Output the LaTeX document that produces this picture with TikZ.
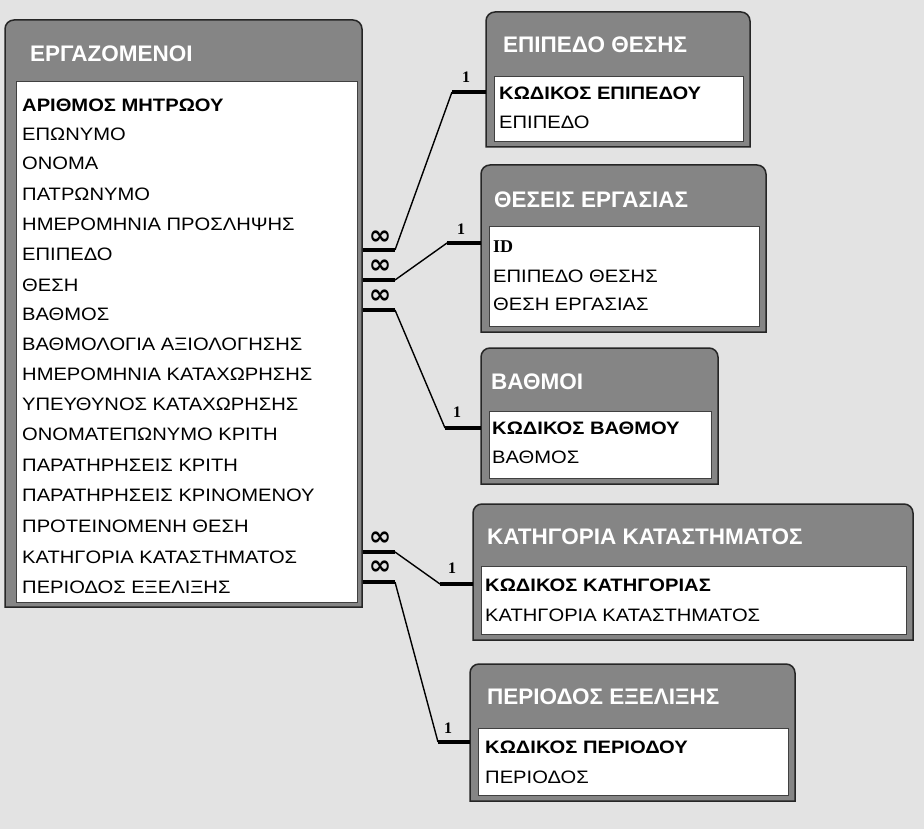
\documentclass[tikz,border=0pt]{standalone}
\usepackage{fontspec}
\setmainfont{Liberation Sans}
\newfontfamily\widefont[FakeStretch=1.12]{Liberation Sans}
\newfontfamily\symfont{DejaVu Sans}
\newfontfamily\numfont{Liberation Serif}
\begin{document}
\begin{tikzpicture}[x=1pt,y=-1pt,
  frame/.style={fill=black!48, draw=black!85, line width=1.5pt},
  body/.style={fill=white, draw=black!75, line width=0.6pt},
  ttl/.style={anchor=west, inner sep=0pt, text=white, font=\fontsize{22.5}{24}\selectfont\bfseries},
  fld/.style={anchor=west, inner sep=0pt, font=\widefont\fontsize{18}{19}\selectfont},
  keyf/.style={anchor=west, inner sep=0pt, font=\widefont\fontsize{18}{19}\selectfont\bfseries},
  bar/.style={line width=4pt},
  link/.style={line width=1.4pt},
  many/.style={inner sep=0pt, font=\symfont\bfseries\fontsize{27}{27}\selectfont},
  one/.style={inner sep=0pt, font=\numfont\bfseries\fontsize{16}{16}\selectfont}]
\useasboundingbox (0,0) rectangle (924,829);
\fill[black!11] (0,0) rectangle (924,829);

% ---------- main table
\path[frame] (5,607) [rounded corners=9pt] -- (5,20) -- (362,20) [sharp corners] -- (362,607) -- cycle;
\path[body] (16,81) rectangle (357,602);
\node[ttl] (mt) at (30,54) {ΕΡΓΑΖΟΜΕΝΟΙ};
\node[keyf] (m0) at (22,105) {ΑΡΙΘΜΟΣ ΜΗΤΡΩΟΥ};
\node[fld] (m1) at (22,134) {ΕΠΩΝΥΜΟ};
\node[fld] (m2) at (22,163) {ΟΝΟΜΑ};
\node[fld] (m3) at (22,194) {ΠΑΤΡΩΝΥΜΟ};
\node[fld] (m4) at (22,224) {ΗΜΕΡΟΜΗΝΙΑ ΠΡΟΣΛΗΨΗΣ};
\node[fld] (m5) at (22,254) {ΕΠΙΠΕΔΟ};
\node[fld] (m6) at (22,285) {ΘΕΣΗ};
\node[fld] (m7) at (22,314) {ΒΑΘΜΟΣ};
\node[fld] (m8) at (22,344) {ΒΑΘΜΟΛΟΓΙΑ ΑΞΙΟΛΟΓΗΣΗΣ};
\node[fld] (m9) at (22,374) {ΗΜΕΡΟΜΗΝΙΑ ΚΑΤΑΧΩΡΗΣΗΣ};
\node[fld] (m10) at (22,404) {ΥΠΕΥΘΥΝΟΣ ΚΑΤΑΧΩΡΗΣΗΣ};
\node[fld] (m11) at (22,434) {ΟΝΟΜΑΤΕΠΩΝΥΜΟ ΚΡΙΤΗ};
\node[fld] (m12) at (22,465) {ΠΑΡΑΤΗΡΗΣΕΙΣ ΚΡΙΤΗ};
\node[fld] (m13) at (22,495) {ΠΑΡΑΤΗΡΗΣΕΙΣ ΚΡΙΝΟΜΕΝΟΥ};
\node[fld] (m14) at (22,526) {ΠΡΟΤΕΙΝΟΜΕΝΗ ΘΕΣΗ};
\node[fld] (m15) at (22,557) {ΚΑΤΗΓΟΡΙΑ ΚΑΤΑΣΤΗΜΑΤΟΣ};
\node[fld] (m16) at (22,587) {ΠΕΡΙΟΔΟΣ ΕΞΕΛΙΞΗΣ};

% ---------- ΕΠΙΠΕΔΟ ΘΕΣΗΣ
\path[frame] (486,147) [rounded corners=9pt] -- (486,12) -- (750,12) [sharp corners] -- (750,147) -- cycle;
\path[body] (494,76) rectangle (743,141);
\node[ttl] (at) at (503,45) {ΕΠΙΠΕΔΟ ΘΕΣΗΣ};
\node[keyf] (a0) at (499,93) {ΚΩΔΙΚΟΣ ΕΠΙΠΕΔΟΥ};
\node[fld] (a1) at (499,122) {ΕΠΙΠΕΔΟ};

% ---------- ΘΕΣΕΙΣ ΕΡΓΑΣΙΑΣ
\path[frame] (481,332) [rounded corners=9pt] -- (481,165) -- (766,165) [sharp corners] -- (766,332) -- cycle;
\path[body] (489,226) rectangle (759,326);
\node[ttl] (bt) at (494,200) {ΘΕΣΕΙΣ ΕΡΓΑΣΙΑΣ};
\node[keyf, font=\numfont\bfseries\fontsize{18}{19}\selectfont] (b0) at (493,247) {ID};
\node[fld] (b1) at (493,276) {ΕΠΙΠΕΔΟ ΘΕΣΗΣ};
\node[fld] (b2) at (493,304) {ΘΕΣΗ ΕΡΓΑΣΙΑΣ};

% ---------- ΒΑΘΜΟΙ
\path[frame] (481,484) [rounded corners=9pt] -- (481,348) -- (718,348) [sharp corners] -- (718,484) -- cycle;
\path[body] (489,411) rectangle (711,478);
\node[ttl] (ct) at (491,382) {ΒΑΘΜΟΙ};
\node[keyf] (c0) at (492,428) {ΚΩΔΙΚΟΣ ΒΑΘΜΟΥ};
\node[fld] (c1) at (492,457) {ΒΑΘΜΟΣ};

% ---------- ΚΑΤΗΓΟΡΙΑ ΚΑΤΑΣΤΗΜΑΤΟΣ
\path[frame] (473,640) [rounded corners=9pt] -- (473,504) -- (913,504) [sharp corners] -- (913,640) -- cycle;
\path[body] (481,566) rectangle (906,634);
\node[ttl] (dt) at (487,537) {ΚΑΤΗΓΟΡΙΑ ΚΑΤΑΣΤΗΜΑΤΟΣ};
\node[keyf] (d0) at (485,585) {ΚΩΔΙΚΟΣ ΚΑΤΗΓΟΡΙΑΣ};
\node[fld] (d1) at (485,615) {ΚΑΤΗΓΟΡΙΑ ΚΑΤΑΣΤΗΜΑΤΟΣ};

% ---------- ΠΕΡΙΟΔΟΣ ΕΞΕΛΙΞΗΣ
\path[frame] (470,801) [rounded corners=9pt] -- (470,664) -- (795,664) [sharp corners] -- (795,801) -- cycle;
\path[body] (478,728) rectangle (788,795);
\node[ttl] (et) at (487,697) {ΠΕΡΙΟΔΟΣ ΕΞΕΛΙΞΗΣ};
\node[keyf] (e0) at (485,747) {ΚΩΔΙΚΟΣ ΠΕΡΙΟΔΟΥ};
\node[fld] (e1) at (485,777) {ΠΕΡΙΟΔΟΣ};

% ---------- relationship end points
\coordinate (s1) at (363,250); \coordinate (s1b) at (395,250);
\coordinate (s2) at (363,280); \coordinate (s2b) at (395,280);
\coordinate (s3) at (363,310); \coordinate (s3b) at (395,310);
\coordinate (s4) at (363,552); \coordinate (s4b) at (395,552);
\coordinate (s5) at (363,582); \coordinate (s5b) at (395,582);
\coordinate (t1b) at (452,92);  \coordinate (t1) at (486,92);
\coordinate (t2b) at (447,243); \coordinate (t2) at (481,243);
\coordinate (t3b) at (445,428); \coordinate (t3) at (481,428);
\coordinate (t4b) at (440,584); \coordinate (t4) at (473,584);
\coordinate (t5b) at (438,742); \coordinate (t5) at (470,742);

\draw[bar] (s1) -- (s1b); \draw[link] (s1b) -- (t1b); \draw[bar] (t1b) -- (t1);
\draw[bar] (s2) -- (s2b); \draw[link] (s2b) -- (t2b); \draw[bar] (t2b) -- (t2);
\draw[bar] (s3) -- (s3b); \draw[link] (s3b) -- (t3b); \draw[bar] (t3b) -- (t3);
\draw[bar] (s4) -- (s4b); \draw[link] (s4b) -- (t4b); \draw[bar] (t4b) -- (t4);
\draw[bar] (s5) -- (s5b); \draw[link] (s5b) -- (t5b); \draw[bar] (t5b) -- (t5);

\node[many] (n1) at (380,238) {∞};
\node[many] (n2) at (380,267) {∞};
\node[many] (n3) at (380,297) {∞};
\node[many] (n4) at (380,539) {∞};
\node[many] (n5) at (380,568) {∞};
\node[one] (o1) at (466,77) {1};
\node[one] (o2) at (461,229) {1};
\node[one] (o3) at (457,412) {1};
\node[one] (o4) at (452,568) {1};
\node[one] (o5) at (448,728) {1};
\end{tikzpicture}
\end{document}
